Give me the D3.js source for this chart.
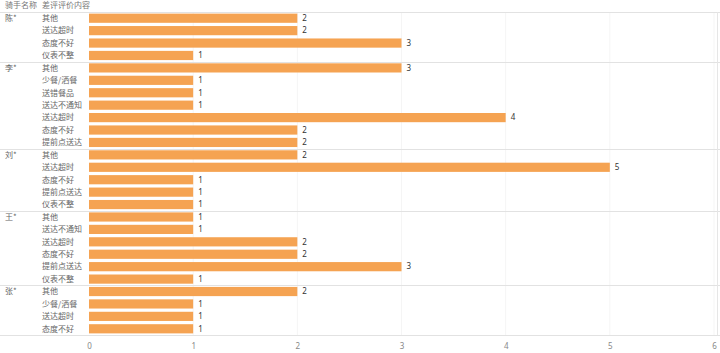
<!DOCTYPE html>
<html>
<head>
<meta charset="utf-8">
<script src="https://cdn.jsdelivr.net/npm/d3@7"></script>
<style>
  body { margin: 0; background: #fff; }
  svg { display: block; font-family: "Noto Sans CJK SC", "Noto Sans", sans-serif; }
</style>
</head>
<body>
<svg id="chart"></svg>
<script>
const riders = ["陈*", "李*", "刘*", "王*", "张*"]
const reasons = [
    ["其他", "送达超时", "态度不好", "仪表不整"],
    ["其他", "少餐/洒餐", "送错餐品", "送达不通知", "送达超时", "态度不好", "提前点送达"],
    ["其他", "送达超时", "态度不好", "提前点送达", "仪表不整"],
    ["其他", "送达不通知", "送达超时", "态度不好", "提前点送达", "仪表不整"],
    ["其他", "少餐/洒餐", "送达超时", "态度不好"]
]
const counts = [
    [2, 2, 3, 1],
    [3, 1, 1, 1, 4, 2, 2],
    [2, 5, 1, 1, 1],
    [1, 1, 2, 2, 3, 1],
    [2, 1, 1, 1]
]
const xTicks = [0, 1, 2, 3, 4, 5, 6]

function drawGraph() {
    const width = 720, height = 353
    const margin = {top: 12, right: 4, bottom: 18, left: 89}

    const rows = []
    riders.forEach((r, i) => reasons[i].forEach((c, j) => rows.push({
        rider: r, reason: c, value: counts[i][j], first: j === 0, key: i + "|" + j
    })))

    const x = d3.scaleLinear()
        .domain([0, 6])
        .range([margin.left, width - margin.right - 2])

    const y = d3.scaleBand()
        .domain(rows.map(d => d.key))
        .range([margin.top, height - margin.bottom])
        .paddingInner(0.26)
        .paddingOuter(0.13)

    const svg = d3.select("svg#chart")
        .attr("width", width)
        .attr("height", height)

    // faint vertical gridlines
    svg.append("g")
        .selectAll("line")
        .data(xTicks.slice(1))
        .join("line")
        .attr("x1", d => x(d)).attr("x2", d => x(d))
        .attr("y1", margin.top).attr("y2", height - margin.bottom)
        .attr("stroke", "#f5f5f5")

    // header
    svg.append("text").attr("x", 5).attr("y", 8).text("骑手名称")
        .attr("font-size", 8).attr("fill", "#777")
    svg.append("text").attr("x", 42).attr("y", 8).text("差评评价内容")
        .attr("font-size", 8).attr("fill", "#777")

    // group separators
    const step = y.step()
    const seps = rows.filter(d => d.first).map(d => y(d.key) - step * y.paddingInner() / 2)
    seps.push(height - margin.bottom)
    svg.append("g")
        .selectAll("line")
        .data(seps)
        .join("line")
        .attr("x1", 0).attr("x2", width)
        .attr("y1", d => Math.round(d) + 0.5).attr("y2", d => Math.round(d) + 0.5)
        .attr("stroke", "#e2e2e2")

    // right border
    svg.append("line")
        .attr("x1", width - 2.5).attr("x2", width - 2.5)
        .attr("y1", margin.top).attr("y2", height - margin.bottom)
        .attr("stroke", "#e6e6e6")

    // rider names
    svg.append("g")
        .selectAll("text")
        .data(rows.filter(d => d.first))
        .join("text")
        .attr("x", 5)
        .attr("y", d => y(d.key) + y.bandwidth() / 2)
        .attr("dy", "0.35em")
        .attr("font-size", 8)
        .attr("fill", "#666")
        .text(d => d.rider)

    // reason labels
    svg.append("g")
        .selectAll("text")
        .data(rows)
        .join("text")
        .attr("x", 42)
        .attr("y", d => y(d.key) + y.bandwidth() / 2)
        .attr("dy", "0.35em")
        .attr("font-size", 8)
        .attr("fill", "#666")
        .text(d => d.reason)

    // bars
    svg.append("g")
        .selectAll("rect")
        .data(rows)
        .join("rect")
        .attr("x", x(0))
        .attr("y", d => y(d.key))
        .attr("width", d => x(d.value) - x(0))
        .attr("height", y.bandwidth())
        .attr("fill", "#f5a352")

    // value labels
    svg.append("g")
        .selectAll("text")
        .data(rows)
        .join("text")
        .attr("x", d => x(d.value) + 5)
        .attr("y", d => y(d.key) + y.bandwidth() / 2)
        .attr("dy", "0.35em")
        .attr("font-size", 8)
        .attr("font-family", "Noto Sans, sans-serif")
        .attr("fill", "#333")
        .text(d => d.value)

    // x axis
    svg.append("g")
        .attr("transform", `translate(0,${height - margin.bottom})`)
        .call(d3.axisBottom(x).tickValues(xTicks).tickFormat(d3.format("d")).tickSize(0).tickPadding(8))
        .call(g => g.select(".domain").remove())
        .call(g => g.selectAll("text")
            .attr("font-size", 8)
            .attr("font-family", "Noto Sans, sans-serif")
            .attr("fill", "#888"))
}

drawGraph()
</script>
</body>
</html>
